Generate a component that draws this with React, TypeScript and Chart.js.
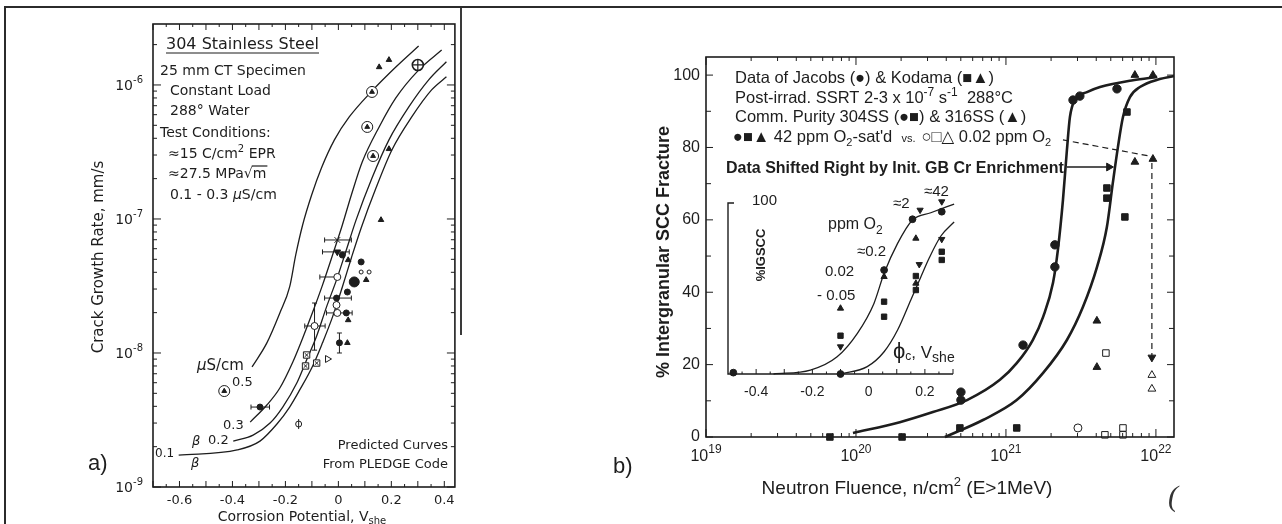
import { useEffect, useRef } from 'react';
import { Chart, registerables } from 'chart.js';

Chart.register(...registerables);

const INK = '#1d1d1d';
const FA = "'DejaVu Sans', sans-serif";
const FB = "'Liberation Sans', Arial, 'DejaVu Sans', sans-serif";

// ================= Panel (a): crack growth rate vs corrosion potential =================
const aXTicks = [-0.6, -0.4, -0.2, 0, 0.2, 0.4];
const aYDecades = [-9, -8, -7, -6];

const aCurve05X = [-0.326, -0.270, -0.221, -0.184, -0.161, -0.135, -0.101, -0.064, -0.015, 0.041, 0.127, 0.217, 0.303];
const aCurve05Y = [7.87e-9, 1.19e-8, 1.99e-8, 3.11e-8, 5.39e-8, 9.02e-8, 1.51e-7, 2.40e-7, 3.89e-7, 5.77e-7, 9.02e-7, 1.36e-6, 1.95e-6];
const aCurve03X = [-0.333, -0.270, -0.221, -0.172, -0.135, -0.097, -0.060, -0.022, 0.015, 0.049, 0.090, 0.154, 0.217, 0.303, 0.390];
const aCurve03Y = [3.05e-9, 4.09e-9, 5.48e-9, 8.57e-9, 1.29e-8, 2.02e-8, 3.21e-8, 5.38e-8, 9.02e-8, 1.51e-7, 2.66e-7, 4.86e-7, 8.0e-7, 1.29e-6, 1.82e-6];
const aCurve02X = [-0.397, -0.322, -0.258, -0.210, -0.157, -0.120, -0.082, -0.045, -0.007, 0.030, 0.067, 0.127, 0.191, 0.266, 0.341, 0.408];
const aCurve02Y = [2.2e-9, 2.44e-9, 3.0e-9, 3.95e-9, 5.97e-9, 8.87e-9, 1.34e-8, 2.2e-8, 3.51e-8, 5.87e-8, 9.84e-8, 2.02e-7, 3.89e-7, 6.85e-7, 1.09e-6, 1.49e-6];
const aCurve01X = [-0.603, -0.382, -0.296, -0.232, -0.184, -0.146, -0.097, -0.060, -0.022, 0.015, 0.049, 0.086, 0.142, 0.202, 0.277, 0.352, 0.408];
const aCurve01Y = [1.73e-9, 1.89e-9, 2.2e-9, 2.95e-9, 3.95e-9, 5.3e-9, 8.0e-9, 1.19e-8, 1.86e-8, 3.11e-8, 5.12e-8, 8.57e-8, 1.7e-7, 3.27e-7, 5.77e-7, 9.18e-7, 1.15e-6];

const aCircTriX = [0.127, 0.109, 0.131, -0.431];
const aCircTriY = [8.87e-7, 4.86e-7, 2.95e-7, 5.2e-9];
const aCircCrossX = [0.30];
const aCircCrossY = [1.41e-6];
const aTriX = [0.154, 0.191, 0.191, 0.161, 0.105, 0.037, 0.037, 0.034];
const aTriY = [1.36e-6, 1.54e-6, 3.33e-7, 9.84e-8, 3.51e-8, 4.94e-8, 1.76e-8, 1.19e-8];
const aDotX = [0.015, 0.086, 0.034, -0.007, 0.030, -0.296, 0.004];
const aDotY = [5.38e-8, 4.78e-8, 2.85e-8, 2.57e-8, 1.99e-8, 3.95e-9, 1.19e-8];
const aBigDotX = [0.060];
const aBigDotY = [3.39e-8];
const aDownTriX = [-0.004];
const aDownTriY = [5.68e-8];
const aRingX = [-0.004, -0.007, -0.004, -0.090];
const aRingY = [3.69e-8, 2.28e-8, 1.99e-8, 1.59e-8];
const aCrossX = [-0.004];
const aCrossY = [6.97e-8];
const aBoxX = [-0.120, -0.124, -0.082];
const aBoxY = [9.66e-9, 8.0e-9, 8.41e-9];
const aRightTriX = [-0.041];
const aRightTriY = [9.02e-9];
const aPhiX = [-0.150];
const aPhiY = [2.95e-9];
const aAlphaX = [0.086, 0.116];
const aAlphaY = [4.02e-8, 4.02e-8];
const aHBarY = [6.97e-8, 5.68e-8, 3.69e-8, 2.57e-8, 1.99e-8, 1.59e-8, 3.95e-9];
const aHBarLo = [-0.052, -0.060, -0.070, -0.052, -0.045, -0.127, -0.330];
const aHBarHi = [0.049, 0.041, -0.004, 0.049, 0.052, -0.050, -0.260];
const aVBarX = [-0.090, 0.004];
const aVBarLo = [1.05e-8, 1.0e-8];
const aVBarHi = [2.36e-8, 1.41e-8];

// ================= Panel (b): % IGSCC vs neutron fluence =================
const bYTicks = [0, 20, 40, 60, 80, 100];
const bXDecades = [19, 20, 21, 22];

const bLeftCurveX = [9.55e19, 1.96e20, 3.26e20, 5.5e20, 9.12e20, 1.18e21, 1.51e21, 1.77e21, 2.06e21, 2.22e21, 2.4e21, 2.55e21, 2.67e21, 2.88e21, 3.47e21, 4.24e21, 7.03e21, 1.02e22];
const bLeftCurveY = [1.1, 4.1, 6.9, 10.2, 15.8, 20.4, 26.8, 33.2, 42.6, 51.7, 65.5, 79.3, 88.4, 93.1, 95.3, 96.7, 98.6, 99.5];
const bRightCurveX = [3.92e20, 7.03e20, 1.18e21, 1.77e21, 2.55e21, 3.26e21, 4.05e21, 4.71e21, 5.16e21, 5.58e21, 6.03e21, 6.71e21, 7.82e21, 1.06e22, 1.32e22];
const bRightCurveY = [0, 4.7, 10.2, 17.7, 26.8, 35.9, 47.0, 58.0, 70.2, 80.1, 88.4, 93.9, 96.7, 98.9, 99.75];

const bJacobsX = [5.01e20, 5.01e20, 1.30e21, 2.12e21, 2.12e21, 2.80e21, 3.11e21, 5.50e21];
const bJacobsY = [12.4, 10.2, 25.4, 53.1, 47.0, 93.1, 94.2, 96.2];
const bKodama304X = [6.7e19, 2.03e20, 4.93e20, 1.18e21, 4.71e21, 4.71e21, 6.21e21, 6.41e21];
const bKodama304Y = [0, 0, 2.5, 2.5, 68.8, 66.0, 60.8, 89.8];
const bKodama316X = [7.24e21, 9.55e21, 7.24e21, 9.55e21, 4.04e21, 4.04e21];
const bKodama316Y = [100, 100, 76.0, 76.8, 32.1, 19.3];
const bLowCircleX = [3.02e21];
const bLowCircleY = [2.5];
const bLowSquareX = [4.64e21, 4.57e21, 6.03e21, 6.03e21];
const bLowSquareY = [23.2, 0.6, 2.5, 0.6];
const bLowTriX = [9.4e21, 9.4e21];
const bLowTriY = [17.1, 13.3];

const bDashX = [2.40e21, 9.12e21];
const bDashY = [82.1, 77.6];
const bDropX = [9.4e21, 9.4e21];
const bDropY = [75.7, 22.0];
const bShiftX = [2.55e21, 4.86e21];
const bShiftY = [74.6, 74.6];
const bDropHeadX = [9.4e21];
const bDropHeadY = [22.0];
const bShiftHeadX = [4.86e21];
const bShiftHeadY = [74.6];

// ================= Inset: %IGSCC vs corrosion potential =================
const cXTicks = [-0.4, -0.2, 0, 0.2];
const cLeftCurveX = [-0.338, -0.207, -0.112, -0.040, 0.019, 0.055, 0.103, 0.156, 0.221, 0.304];
const cLeftCurveY = [0, 2.3, 10.1, 23.8, 41.3, 58.9, 76.4, 90.1, 94.3, 99.4];
const cRightCurveX = [-0.10, -0.005, 0.055, 0.103, 0.150, 0.186, 0.215, 0.257, 0.304];
const cRightCurveY = [0, 4.3, 13.0, 25.7, 43.3, 56.9, 67.7, 80.7, 88.9];
const cDotX = [-0.481, -0.10, 0.055, 0.156, 0.26];
const cDotY = [0.8, 0, 60.8, 90.5, 94.9];
const cSqX = [-0.10, 0.055, 0.055, 0.168, 0.168, 0.26, 0.26];
const cSqY = [22.4, 42.3, 33.5, 57.3, 49.1, 71.5, 66.7];
const cUpX = [-0.10, 0.055, 0.168, 0.168];
const cUpY = [38.4, 56.9, 79.3, 53.0];
const cDownX = [-0.10, 0.183, 0.18, 0.26, 0.26];
const cDownY = [16.0, 95.9, 64.1, 100.8, 78.8];

// ================= helpers =================
const pts = (xs: number[], ys: number[]) => xs.map((x, i) => ({ x, y: ys[i] }));

function marks(xs: number[], ys: number[], style: string, radius: number, filled: boolean, extra: any = {}) {
  return {
    data: pts(xs, ys),
    showLine: false,
    pointStyle: style,
    pointRadius: radius,
    pointHoverRadius: radius,
    pointBackgroundColor: filled ? INK : '#ffffff',
    pointBorderColor: INK,
    pointBorderWidth: 1,
    clip: false,
    ...extra,
  };
}

function curve(xs: number[], ys: number[], width: number, extra: any = {}) {
  return {
    data: pts(xs, ys),
    showLine: true,
    borderColor: INK,
    borderWidth: width,
    pointRadius: 0,
    pointHoverRadius: 0,
    cubicInterpolationMode: 'monotone',
    fill: false,
    clip: false,
    ...extra,
  };
}

const hBars = (ys: number[], lo: number[], hi: number[]) =>
  ys.flatMap((y, i) => [{ x: lo[i], y }, { x: hi[i], y }, { x: hi[i], y: null }]);
const vBars = (xs: number[], lo: number[], hi: number[]) =>
  xs.flatMap((x, i) => [{ x, y: lo[i] }, { x, y: hi[i] }, { x, y: null }]);

const fmtV = (v: number) => (Math.abs(v) < 1e-9 ? '0' : v.toFixed(1));

type Seg = { t: string; size: number; dy?: number; bold?: boolean; italic?: boolean };

function segFont(s: Seg, fam: string) {
  return `${s.italic ? 'italic ' : ''}${s.bold ? 'bold ' : ''}${s.size}px ${fam}`;
}

function rich(ctx: any, segs: Seg[], x: number, y: number, align: string, fam: string) {
  let w = 0;
  const ws = segs.map((s) => {
    ctx.font = segFont(s, fam);
    const m = ctx.measureText(s.t).width;
    w += m;
    return m;
  });
  let cx = align === 'left' ? x : align === 'center' ? x - w / 2 : x - w;
  const x0 = cx;
  ctx.textAlign = 'left';
  ctx.textBaseline = 'alphabetic';
  segs.forEach((s, i) => {
    ctx.font = segFont(s, fam);
    ctx.fillText(s.t, cx, y + (s.dy || 0));
    cx += ws[i];
  });
  return { x0, w, ws };
}

function richRot(ctx: any, segs: Seg[], cx: number, cy: number, capH: number, fam: string) {
  ctx.save();
  ctx.translate(cx + capH / 2, cy);
  ctx.rotate(-Math.PI / 2);
  rich(ctx, segs, 0, 0, 'center', fam);
  ctx.restore();
}

function baseOptions(padding: any, scales: any) {
  return {
    responsive: false,
    maintainAspectRatio: false,
    animation: false,
    devicePixelRatio: 1,
    events: [],
    layout: { padding },
    plugins: { legend: { display: false }, tooltip: { enabled: false } },
    scales,
  };
}

// ================= plugins =================
const panelAPlugin = {
  id: 'panelA',
  afterDraw(chart: any) {
    const ctx = chart.ctx;
    const { left, right, top, bottom } = chart.chartArea;
    const xs = chart.scales.x;
    const ys = chart.scales.y;
    ctx.save();
    ctx.strokeStyle = INK;
    ctx.fillStyle = INK;
    ctx.lineWidth = 1.6;
    ctx.strokeRect(left, top, right - left, bottom - top);
    ctx.lineWidth = 1;
    ctx.beginPath();
    for (const e of aYDecades) {
      for (let m = 1; m <= 9; m++) {
        const v = m * Math.pow(10, e);
        if (v > ys.max) break;
        const p = ys.getPixelForValue(v);
        const len = m === 1 ? 8 : 4;
        ctx.moveTo(left, p); ctx.lineTo(left + len, p);
        ctx.moveTo(right, p); ctx.lineTo(right - len, p);
      }
    }
    for (let i = -14; i <= 8; i++) {
      const v = i * 0.05;
      if (v < xs.min - 1e-9 || v > xs.max) continue;
      const p = xs.getPixelForValue(v);
      const len = i % 2 === 0 ? 6 : 3;
      ctx.moveTo(p, bottom); ctx.lineTo(p, bottom - len);
      ctx.moveTo(p, top); ctx.lineTo(p, top + len);
    }
    ctx.stroke();

    for (const e of aYDecades) {
      const p = ys.getPixelForValue(Math.pow(10, e));
      rich(ctx, [{ t: '10', size: 14 }, { t: String(e), size: 10, dy: -7 }], left - 10, p + 5, 'right', FA);
    }

    const u = rich(ctx, [{ t: '304 Stainless Steel', size: 16 }], 166, 49, 'left', FA);
    ctx.lineWidth = 1.2;
    ctx.beginPath();
    ctx.moveTo(u.x0, 53); ctx.lineTo(u.x0 + u.w, 53);
    ctx.stroke();
    rich(ctx, [{ t: '25 mm CT Specimen', size: 14 }], 160, 75, 'left', FA);
    rich(ctx, [{ t: 'Constant Load', size: 14 }], 170, 95, 'left', FA);
    rich(ctx, [{ t: '288° Water', size: 14 }], 170, 115, 'left', FA);
    rich(ctx, [{ t: 'Test Conditions:', size: 14 }], 160, 137, 'left', FA);
    rich(ctx, [{ t: '≈15 C/cm', size: 14 }, { t: '2', size: 10, dy: -6 }, { t: ' EPR', size: 14 }], 168, 158, 'left', FA);
    const r = rich(ctx, [{ t: '≈27.5 MPa√', size: 14 }, { t: 'm', size: 14 }], 168, 178, 'left', FA);
    ctx.beginPath();
    ctx.moveTo(r.x0 + r.ws[0] - 1, 166); ctx.lineTo(r.x0 + r.w + 1, 166);
    ctx.stroke();
    rich(ctx, [{ t: '0.1 - 0.3 ', size: 14 }, { t: 'μ', size: 14, italic: true }, { t: 'S/cm', size: 14 }], 170, 199, 'left', FA);
    rich(ctx, [{ t: 'Predicted Curves', size: 13 }], 448, 449, 'right', FA);
    rich(ctx, [{ t: 'From PLEDGE Code', size: 13 }], 448, 468, 'right', FA);

    rich(ctx, [{ t: 'μ', size: 15, italic: true }, { t: 'S/cm', size: 15 }], 197, 370, 'left', FA);
    rich(ctx, [{ t: '0.5', size: 13 }], 232, 386, 'left', FA);
    rich(ctx, [{ t: '0.3', size: 13 }], 223, 429, 'left', FA);
    rich(ctx, [{ t: 'β', size: 13, italic: true }], 192, 445, 'left', FA);
    rich(ctx, [{ t: '0.2', size: 13 }], 208, 444, 'left', FA);
    rich(ctx, [{ t: '0.1', size: 12 }], 155, 457, 'left', FA);
    rich(ctx, [{ t: 'β', size: 13, italic: true }], 191, 467, 'left', FA);

    rich(ctx, [{ t: 'a)', size: 22 }], 88, 470, 'left', FB);
    richRot(ctx, [{ t: 'Crack Growth Rate, mm/s', size: 15 }], 97, 257, 11, FA);
    rich(ctx, [{ t: 'Corrosion Potential, V', size: 14 }, { t: 'she', size: 10, dy: 3 }], 302, 521, 'center', FA);
    ctx.restore();
  },
};

const panelBPlugin = {
  id: 'panelB',
  afterDraw(chart: any) {
    const ctx = chart.ctx;
    const { left, right, top, bottom } = chart.chartArea;
    const xs = chart.scales.x;
    const ys = chart.scales.y;
    ctx.save();
    ctx.strokeStyle = INK;
    ctx.fillStyle = INK;
    ctx.lineWidth = 1.6;
    ctx.strokeRect(left, top, right - left, bottom - top);
    ctx.lineWidth = 1;
    ctx.beginPath();
    for (let v = 0; v <= 100; v += 10) {
      const p = ys.getPixelForValue(v);
      const len = v % 20 === 0 ? 7 : 5;
      ctx.moveTo(left, p); ctx.lineTo(left + len, p);
      ctx.moveTo(right, p); ctx.lineTo(right - len, p);
    }
    for (const e of bXDecades) {
      for (let m = 1; m <= 9; m++) {
        const v = m * Math.pow(10, e);
        if (v > xs.max) break;
        const p = xs.getPixelForValue(v);
        const len = m === 1 ? 8 : 4;
        ctx.moveTo(p, bottom); ctx.lineTo(p, bottom - len);
        ctx.moveTo(p, top); ctx.lineTo(p, top + len);
      }
    }
    ctx.stroke();

    for (const e of bXDecades) {
      const p = xs.getPixelForValue(Math.pow(10, e));
      rich(ctx, [{ t: '10', size: 16 }, { t: String(e), size: 12, dy: -8 }], p, 461, 'center', FB);
    }

    ctx.translate(-462, 0);
    rich(ctx, [{ t: 'Data of Jacobs (●) & Kodama (■▲)', size: 16.5 }], 735, 83, 'left', FB);
    rich(ctx, [
      { t: 'Post-irrad. SSRT 2-3 x 10', size: 16.5 },
      { t: '-7', size: 12, dy: -7 },
      { t: ' s', size: 16.5 },
      { t: '-1', size: 12, dy: -7 },
      { t: '  288°C', size: 16.5 },
    ], 735, 103, 'left', FB);
    rich(ctx, [{ t: 'Comm. Purity 304SS (●■) & 316SS (▲)', size: 16.5 }], 735, 122, 'left', FB);
    rich(ctx, [
      { t: '●■▲ 42 ppm O', size: 16.5 },
      { t: '2', size: 11, dy: 4 },
      { t: "-sat'd", size: 16.5 },
      { t: '   vs.  ', size: 11 },
      { t: '○□△ 0.02 ppm O', size: 16.5 },
      { t: '2', size: 11, dy: 4 },
    ], 733, 142, 'left', FB);
    rich(ctx, [{ t: 'Data Shifted Right by Init. GB Cr Enrichment', size: 16, bold: true }], 726, 173, 'left', FB);
    rich(ctx, [{ t: 'Neutron Fluence, n/cm', size: 19 }, { t: '2', size: 13, dy: -8 }, { t: ' (E>1MeV)', size: 19 }], 907, 494, 'center', FB);
    richRot(ctx, [{ t: '% Intergranular SCC Fracture', size: 18, bold: true }], 662, 252, 13, FB);
    rich(ctx, [{ t: 'b)', size: 22 }], 613, 473, 'left', FB);
    ctx.restore();
  },
};

const panelCPlugin = {
  id: 'panelC',
  afterDraw(chart: any) {
    const ctx = chart.ctx;
    const { left, right, top, bottom } = chart.chartArea;
    const xs = chart.scales.x;
    ctx.save();
    ctx.strokeStyle = INK;
    ctx.fillStyle = INK;
    ctx.lineWidth = 1.4;
    ctx.beginPath();
    ctx.moveTo(left + 6, top); ctx.lineTo(left, top); ctx.lineTo(left, bottom); ctx.lineTo(right, bottom);
    ctx.stroke();
    ctx.lineWidth = 1;
    ctx.beginPath();
    for (let i = -10; i <= 6; i++) {
      const v = i * 0.05;
      if (v < xs.min + 1e-9 || v > xs.max + 1e-9) continue;
      const p = xs.getPixelForValue(v);
      const len = i % 2 === 0 ? 5 : 2.5;
      ctx.moveTo(p, bottom); ctx.lineTo(p, bottom - len);
    }
    ctx.stroke();

    ctx.translate(-700, -180);
    rich(ctx, [{ t: '100', size: 15 }], 752, 205, 'left', FB);
    richRot(ctx, [{ t: '%IGSCC', size: 13, bold: true }], 760, 255, 9, FB);
    rich(ctx, [{ t: 'ppm O', size: 16 }, { t: '2', size: 12, dy: 5 }], 828, 229, 'left', FB);
    rich(ctx, [{ t: '≈2', size: 15 }], 893, 208, 'left', FB);
    rich(ctx, [{ t: '≈42', size: 15 }], 924, 196, 'left', FB);
    rich(ctx, [{ t: '≈0.2', size: 15 }], 857, 256, 'left', FB);
    rich(ctx, [{ t: '0.02', size: 15 }], 825, 276, 'left', FB);
    rich(ctx, [{ t: '- 0.05', size: 15 }], 817, 300, 'left', FB);
    rich(ctx, [
      { t: 'ϕ', size: 22 },
      { t: 'c', size: 12, dy: 2 },
      { t: ', V', size: 17 },
      { t: 'she', size: 14, dy: 4 },
    ], 893, 358, 'left', FB);
    ctx.restore();
  },
};

// ================= chart builders =================
function buildA(): any {
  return {
    type: 'line',
    data: {
      datasets: [
        marks(aCircTriX, aCircTriY, 'triangle', 2.8, true),
        marks(aCircTriX, aCircTriY, 'circle', 5.5, false),
        marks(aCircCrossX, aCircCrossY, 'cross', 5.5, false, { pointBorderWidth: 1.2 }),
        marks(aCircCrossX, aCircCrossY, 'circle', 5.5, false, { pointBorderWidth: 1.6 }),
        marks(aTriX, aTriY, 'triangle', 3.2, true),
        marks(aDotX, aDotY, 'circle', 3, true),
        marks(aBigDotX, aBigDotY, 'circle', 5, true),
        marks(aDownTriX, aDownTriY, 'triangle', 3.8, true, { pointRotation: 180 }),
        marks(aRingX, aRingY, 'circle', 3.5, false),
        marks(aCrossX, aCrossY, 'crossRot', 4, false),
        marks(aBoxX, aBoxY, 'crossRot', 2.8, false),
        marks(aBoxX, aBoxY, 'rect', 4.5, false),
        marks(aRightTriX, aRightTriY, 'triangle', 4, false, { pointRotation: 90 }),
        marks(aPhiX, aPhiY, 'line', 5, false, { pointRotation: 90 }),
        marks(aPhiX, aPhiY, 'circle', 3, false),
        marks(aAlphaX, aAlphaY, 'circle', 2, false),
        {
          data: hBars(aHBarY, aHBarLo, aHBarHi), showLine: true, spanGaps: false, borderColor: INK, borderWidth: 1,
          pointStyle: 'line', pointRotation: 90, pointRadius: 2.5, pointBorderColor: INK, pointBorderWidth: 1, clip: false,
        },
        {
          data: vBars(aVBarX, aVBarLo, aVBarHi), showLine: true, spanGaps: false, borderColor: INK, borderWidth: 1,
          pointStyle: 'line', pointRotation: 0, pointRadius: 2.5, pointBorderColor: INK, pointBorderWidth: 1, clip: false,
        },
        curve(aCurve05X, aCurve05Y, 1.3),
        curve(aCurve03X, aCurve03Y, 1.3),
        curve(aCurve02X, aCurve02Y, 1.3),
        curve(aCurve01X, aCurve01Y, 1.3),
      ],
    },
    options: baseOptions({ left: 0, top: 24, right: 5, bottom: 0 }, {
      x: {
        type: 'linear', min: -0.7, max: 0.44,
        grid: { display: false, drawTicks: false }, border: { display: false },
        ticks: { color: INK, font: { family: FA, size: 13 }, padding: 6, maxRotation: 0, autoSkip: false, callback: (v: number) => fmtV(v) },
        afterBuildTicks: (s: any) => { s.ticks = aXTicks.map((value) => ({ value })); },
        afterFit: (s: any) => { s.height = 37; },
      },
      y: {
        type: 'logarithmic', min: 1e-9, max: 2.85e-6,
        grid: { display: false, drawTicks: false }, border: { display: false },
        ticks: { display: false },
        afterFit: (s: any) => { s.width = 153; },
      },
    }),
    plugins: [panelAPlugin],
  };
}

function buildB(): any {
  return {
    type: 'line',
    data: {
      datasets: [
        marks(bJacobsX, bJacobsY, 'circle', 4.2, true),
        marks(bKodama304X, bKodama304Y, 'rect', 4.6, true),
        marks(bKodama316X, bKodama316Y, 'triangle', 4.5, true),
        marks(bLowCircleX, bLowCircleY, 'circle', 4, false),
        marks(bLowSquareX, bLowSquareY, 'rect', 4.6, false),
        marks(bLowTriX, bLowTriY, 'triangle', 4.5, false),
        marks(bDropHeadX, bDropHeadY, 'triangle', 4.5, true, { pointRotation: 180 }),
        marks(bShiftHeadX, bShiftHeadY, 'triangle', 4.5, true, { pointRotation: 90 }),
        curve(bDashX, bDashY, 1.2, { borderDash: [6, 4], cubicInterpolationMode: 'default' }),
        curve(bDropX, bDropY, 1.2, { borderDash: [6, 4], cubicInterpolationMode: 'default' }),
        curve(bShiftX, bShiftY, 1.3, { cubicInterpolationMode: 'default' }),
        curve(bLeftCurveX, bLeftCurveY, 2.6),
        curve(bRightCurveX, bRightCurveY, 2.6),
      ],
    },
    options: baseOptions({ left: 0, top: 57, right: 108, bottom: 0 }, {
      x: {
        type: 'logarithmic', min: 1e19, max: 1.32e22,
        grid: { display: false, drawTicks: false }, border: { display: false },
        ticks: { display: false },
        afterFit: (s: any) => { s.height = 87; },
      },
      y: {
        type: 'linear', min: 0, max: 105,
        grid: { display: false, drawTicks: false }, border: { display: false },
        ticks: { color: INK, font: { family: FB, size: 16 }, padding: 6, autoSkip: false, callback: (v: number) => String(v) },
        afterBuildTicks: (s: any) => { s.ticks = bYTicks.map((value) => ({ value })); },
        afterFit: (s: any) => { s.width = 244; },
      },
    }),
    plugins: [panelBPlugin],
  };
}

function buildC(): any {
  return {
    type: 'line',
    data: {
      datasets: [
        marks(cDotX, cDotY, 'circle', 3.4, true),
        marks(cSqX, cSqY, 'rect', 3.8, true),
        marks(cUpX, cUpY, 'triangle', 3.6, true),
        marks(cDownX, cDownY, 'triangle', 3.6, true, { pointRotation: 180 }),
        curve(cLeftCurveX, cLeftCurveY, 1.3),
        curve(cRightCurveX, cRightCurveY, 1.3),
      ],
    },
    options: baseOptions({ left: 0, top: 23, right: 27, bottom: 0 }, {
      x: {
        type: 'linear', min: -0.5, max: 0.3,
        grid: { display: false, drawTicks: false }, border: { display: false },
        ticks: { color: INK, font: { family: FB, size: 14 }, padding: 10, maxRotation: 0, autoSkip: false, callback: (v: number) => fmtV(v) },
        afterBuildTicks: (s: any) => { s.ticks = cXTicks.map((value) => ({ value })); },
        afterFit: (s: any) => { s.height = 36; },
      },
      y: {
        type: 'linear', min: 0, max: 100,
        grid: { display: false, drawTicks: false }, border: { display: false },
        ticks: { display: false },
        afterFit: (s: any) => { s.width = 28; },
      },
    }),
    plugins: [panelCPlugin],
  };
}

export default function App() {
  const refA = useRef<HTMLCanvasElement>(null);
  const refB = useRef<HTMLCanvasElement>(null);
  const refC = useRef<HTMLCanvasElement>(null);

  useEffect(() => {
    const charts = [
      new Chart(refA.current as HTMLCanvasElement, buildA()),
      new Chart(refB.current as HTMLCanvasElement, buildB()),
      new Chart(refC.current as HTMLCanvasElement, buildC()),
    ];
    return () => charts.forEach((c) => c.destroy());
  }, []);

  return (
    <div style={{ position: 'fixed', left: 0, top: 0, width: 1282, height: 524, background: '#ffffff', overflow: 'hidden' }}>
      <canvas ref={refA} width={462} height={524} style={{ position: 'absolute', left: 0, top: 0, width: 462, height: 524 }} />
      <canvas ref={refB} width={820} height={524} style={{ position: 'absolute', left: 462, top: 0, width: 820, height: 524 }} />
      <canvas ref={refC} width={280} height={230} style={{ position: 'absolute', left: 700, top: 180, width: 280, height: 230 }} />
      <div style={{ position: 'absolute', left: 5, top: 6, width: 1277, height: 2, background: '#2b2b2b' }} />
      <div style={{ position: 'absolute', left: 4, top: 6, width: 2, height: 518, background: '#2b2b2b' }} />
      <div style={{ position: 'absolute', left: 460, top: 8, width: 2, height: 327, background: '#3a3a3a' }} />
      <div style={{ position: 'absolute', left: 1168, top: 481, font: "italic 30px 'Liberation Serif', serif", color: '#333333', lineHeight: '30px' }}>(</div>
    </div>
  );
}
